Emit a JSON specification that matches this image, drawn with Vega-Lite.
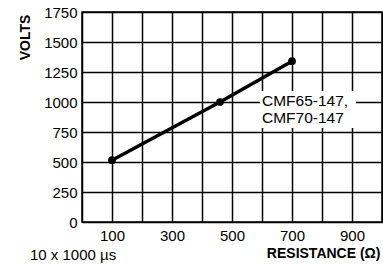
{
  "$schema": "https://vega.github.io/schema/vega-lite/v6.json",
  "autosize": {"type": "none"},
  "width": 300,
  "height": 210,
  "padding": {"left": 82, "top": 12, "right": 1, "bottom": 43},
  "background": "white",
  "config": {
    "font": "Liberation Sans",
    "view": {"stroke": "black", "strokeWidth": 1.5},
    "axis": {
      "domain": false,
      "ticks": false,
      "grid": true,
      "gridColor": "black",
      "gridOpacity": 1,
      "gridWidth": 1.5,
      "labelColor": "black",
      "labelFontSize": 15,
      "labelFont": "Liberation Sans",
      "titleFont": "Liberation Sans",
      "titleColor": "black",
      "titleFontSize": 14,
      "titleFontWeight": "bold"
    },
    "axisX": {
      "labelExpr": "datum.value % 200 == 100 ? datum.label : ''",
      "labelPadding": 6,
      "titleAnchor": null,
      "titleAlign": "right",
      "titleBaseline": "middle",
      "titleX": 298,
      "titleY": 31
    },
    "axisY": {
      "format": "d",
      "labelPadding": 5,
      "titleAnchor": null,
      "titleAngle": -90,
      "titleAlign": "center",
      "titleBaseline": "middle",
      "titleX": -57,
      "titleY": 25
    }
  },
  "title": {
    "text": "10 x 1000 µs",
    "orient": "bottom",
    "anchor": "start",
    "frame": "group",
    "dx": -52,
    "offset": -12,
    "fontSize": 15,
    "fontWeight": "normal",
    "font": "Liberation Sans",
    "color": "black"
  },
  "datasets": {
    "curve": [
      {"resistance": 100, "volts": 515},
      {"resistance": 460, "volts": 1000},
      {"resistance": 700, "volts": 1340}
    ],
    "note": [
      {"line1": "CMF65-147,", "line2": "CMF70-147"}
    ]
  },
  "layer": [
    {
      "data": {"name": "curve"},
      "mark": {"type": "line", "color": "black", "strokeWidth": 3.5},
      "encoding": {
        "x": {
          "field": "resistance",
          "type": "quantitative",
          "title": "RESISTANCE (Ω)",
          "scale": {"domain": [0, 1000], "nice": false},
          "axis": {"values": [0, 100, 200, 300, 400, 500, 600, 700, 800, 900, 1000]}
        },
        "y": {
          "field": "volts",
          "type": "quantitative",
          "title": "VOLTS",
          "scale": {"domain": [0, 1750], "nice": false},
          "axis": {"values": [0, 250, 500, 750, 1000, 1250, 1500, 1750]}
        }
      }
    },
    {
      "data": {"name": "curve"},
      "mark": {"type": "point", "filled": true, "color": "black", "opacity": 1, "size": 60},
      "encoding": {
        "x": {"field": "resistance", "type": "quantitative", "title": "RESISTANCE (Ω)",
          "axis": {"values": [0, 100, 200, 300, 400, 500, 600, 700, 800, 900, 1000]}},
        "y": {"field": "volts", "type": "quantitative", "title": "VOLTS",
          "axis": {"values": [0, 250, 500, 750, 1000, 1250, 1500, 1750]}}
      }
    },
    {
      "data": {"name": "note"},
      "mark": {"type": "rect", "fill": "white", "strokeWidth": 0, "opacity": 1},
      "encoding": {
        "x": {"datum": 593, "type": "quantitative", "title": "RESISTANCE (Ω)",
          "axis": {"values": [0, 100, 200, 300, 400, 500, 600, 700, 800, 900, 1000]}},
        "x2": {"datum": 913},
        "y": {"datum": 1092, "type": "quantitative", "title": "VOLTS",
          "axis": {"values": [0, 250, 500, 750, 1000, 1250, 1500, 1750]}},
        "y2": {"datum": 783}
      }
    },
    {
      "data": {"name": "note"},
      "mark": {
        "type": "text",
        "align": "left",
        "baseline": "top",
        "fontSize": 15.5,
        "fontWeight": "normal",
        "fill": "black",
        "font": "Liberation Sans"
      },
      "encoding": {
        "x": {"datum": 600, "type": "quantitative", "title": "RESISTANCE (Ω)",
          "axis": {"values": [0, 100, 200, 300, 400, 500, 600, 700, 800, 900, 1000]}},
        "y": {"datum": 1067, "type": "quantitative", "title": "VOLTS",
          "axis": {"values": [0, 250, 500, 750, 1000, 1250, 1500, 1750]}},
        "text": {"field": "line1"}
      }
    },
    {
      "data": {"name": "note"},
      "mark": {
        "type": "text",
        "align": "left",
        "baseline": "top",
        "fontSize": 15.5,
        "fontWeight": "normal",
        "fill": "black",
        "font": "Liberation Sans"
      },
      "encoding": {
        "x": {"datum": 600, "type": "quantitative", "title": "RESISTANCE (Ω)",
          "axis": {"values": [0, 100, 200, 300, 400, 500, 600, 700, 800, 900, 1000]}},
        "y": {"datum": 921, "type": "quantitative", "title": "VOLTS",
          "axis": {"values": [0, 250, 500, 750, 1000, 1250, 1500, 1750]}},
        "text": {"field": "line2"}
      }
    }
  ]
}
